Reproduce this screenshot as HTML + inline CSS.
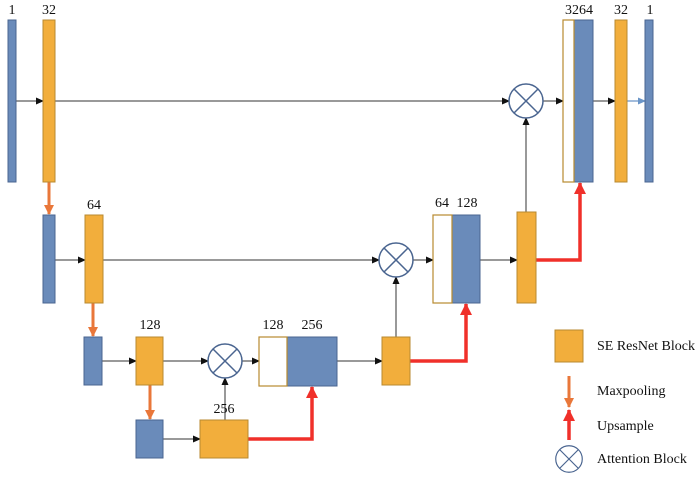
<!DOCTYPE html>
<html><head><style>body{margin:0;background:#fff}svg{display:block}text{font-family:"Liberation Serif",serif;font-size:14px;fill:#111}</style></head><body>
<svg width="700" height="480" viewBox="0 0 700 480">
<defs>
<marker id="k" markerWidth="8" markerHeight="8" refX="7" refY="4" orient="auto" markerUnits="userSpaceOnUse"><path d="M0,0.5L8,4L0,7.5z" fill="#111"/></marker>
<marker id="b" markerWidth="8" markerHeight="8" refX="7" refY="4" orient="auto" markerUnits="userSpaceOnUse"><path d="M0,0.5L8,4L0,7.5z" fill="#6a95c8"/></marker>
<marker id="o" markerWidth="10" markerHeight="10" refX="9" refY="5" orient="auto" markerUnits="userSpaceOnUse"><path d="M0,0L10,5L0,10z" fill="#e9773a"/></marker>
<marker id="r" markerWidth="12" markerHeight="12" refX="11" refY="6" orient="auto" markerUnits="userSpaceOnUse"><path d="M0,0L12,6L0,12z" fill="#f0302a"/></marker>
<g id="x"><circle r="17" fill="#fff" stroke="#4a6590" stroke-width="1.5"/><path d="M-12,-12L12,12M12,-12L-12,12" stroke="#4a6590" stroke-width="1.5"/></g>
</defs>
<g stroke="#333" stroke-width="1" fill="none">
<path d="M16,101H43" marker-end="url(#k)"/><path d="M55,101H509" marker-end="url(#k)"/><path d="M543,101H563" marker-end="url(#k)"/><path d="M593,101H615" marker-end="url(#k)"/>
<path d="M55,260H85" marker-end="url(#k)"/><path d="M103,260H379" marker-end="url(#k)"/><path d="M413,260H433" marker-end="url(#k)"/><path d="M480,260H517" marker-end="url(#k)"/><path d="M526,212V118" marker-end="url(#k)"/>
<path d="M102,361H136" marker-end="url(#k)"/><path d="M163,361H208" marker-end="url(#k)"/><path d="M242,361H259" marker-end="url(#k)"/><path d="M337,361H382" marker-end="url(#k)"/><path d="M396,337V277" marker-end="url(#k)"/>
<path d="M163,439H200" marker-end="url(#k)"/><path d="M225,420V378" marker-end="url(#k)"/>
</g>
<path d="M627,101H645" stroke="#6a95c8" stroke-width="1.2" marker-end="url(#b)"/>
<g stroke="#e9773a" stroke-width="3" fill="none">
<path d="M49,182V214" marker-end="url(#o)"/><path d="M93,303V336" marker-end="url(#o)"/><path d="M150,385V419" marker-end="url(#o)"/><path d="M569,376V407" marker-end="url(#o)"/>
</g>
<g stroke="#f0302a" stroke-width="3.5" fill="none">
<path d="M536,260H580V183" marker-end="url(#r)"/><path d="M410,361H466V304" marker-end="url(#r)"/><path d="M248,439H312V387" marker-end="url(#r)"/><path d="M569,440V410" marker-end="url(#r)"/>
</g>
<g fill="#6a8bba" stroke="#4a6590" stroke-width="1">
<rect x="8" y="20" width="8" height="162"/><rect x="574" y="20" width="19" height="162"/><rect x="645" y="20" width="8" height="162"/>
<rect x="43" y="215" width="12" height="88"/><rect x="452" y="215" width="28" height="88"/>
<rect x="84" y="337" width="18" height="48"/><rect x="287" y="337" width="50" height="49"/>
<rect x="136" y="420" width="27" height="38"/>
</g>
<g fill="#f2ae3c" stroke="#b88a30" stroke-width="1">
<rect x="43" y="20" width="12" height="162"/><rect x="615" y="20" width="12" height="162"/>
<rect x="85" y="215" width="18" height="88"/><rect x="517" y="212" width="19" height="91"/>
<rect x="136" y="337" width="27" height="48"/><rect x="382" y="337" width="28" height="48"/>
<rect x="200" y="420" width="48" height="38"/><rect x="555" y="330" width="28" height="32"/>
</g>
<g fill="#fff" stroke="#b88a30" stroke-width="1.2">
<rect x="563" y="20" width="11" height="162"/><rect x="433" y="215" width="19" height="88"/><rect x="259" y="337" width="28" height="49"/>
</g>
<use href="#x" x="526" y="101"/><use href="#x" x="396" y="260"/><use href="#x" x="225" y="361"/>
<g transform="translate(569,459) scale(0.78)"><use href="#x"/></g>
<g text-anchor="middle">
<text x="12" y="14">1</text><text x="49" y="14">32</text><text x="579" y="14">3264</text><text x="621" y="14">32</text><text x="650" y="14">1</text>
<text x="94" y="209">64</text><text x="442" y="207">64</text><text x="467" y="207">128</text>
<text x="150" y="329">128</text><text x="273" y="329">128</text><text x="312" y="329">256</text><text x="224" y="413">256</text>
</g>
<text x="597" y="350">SE ResNet Block</text><text x="597" y="395">Maxpooling</text><text x="597" y="430">Upsample</text><text x="597" y="463">Attention Block</text>
</svg>
</body></html>
